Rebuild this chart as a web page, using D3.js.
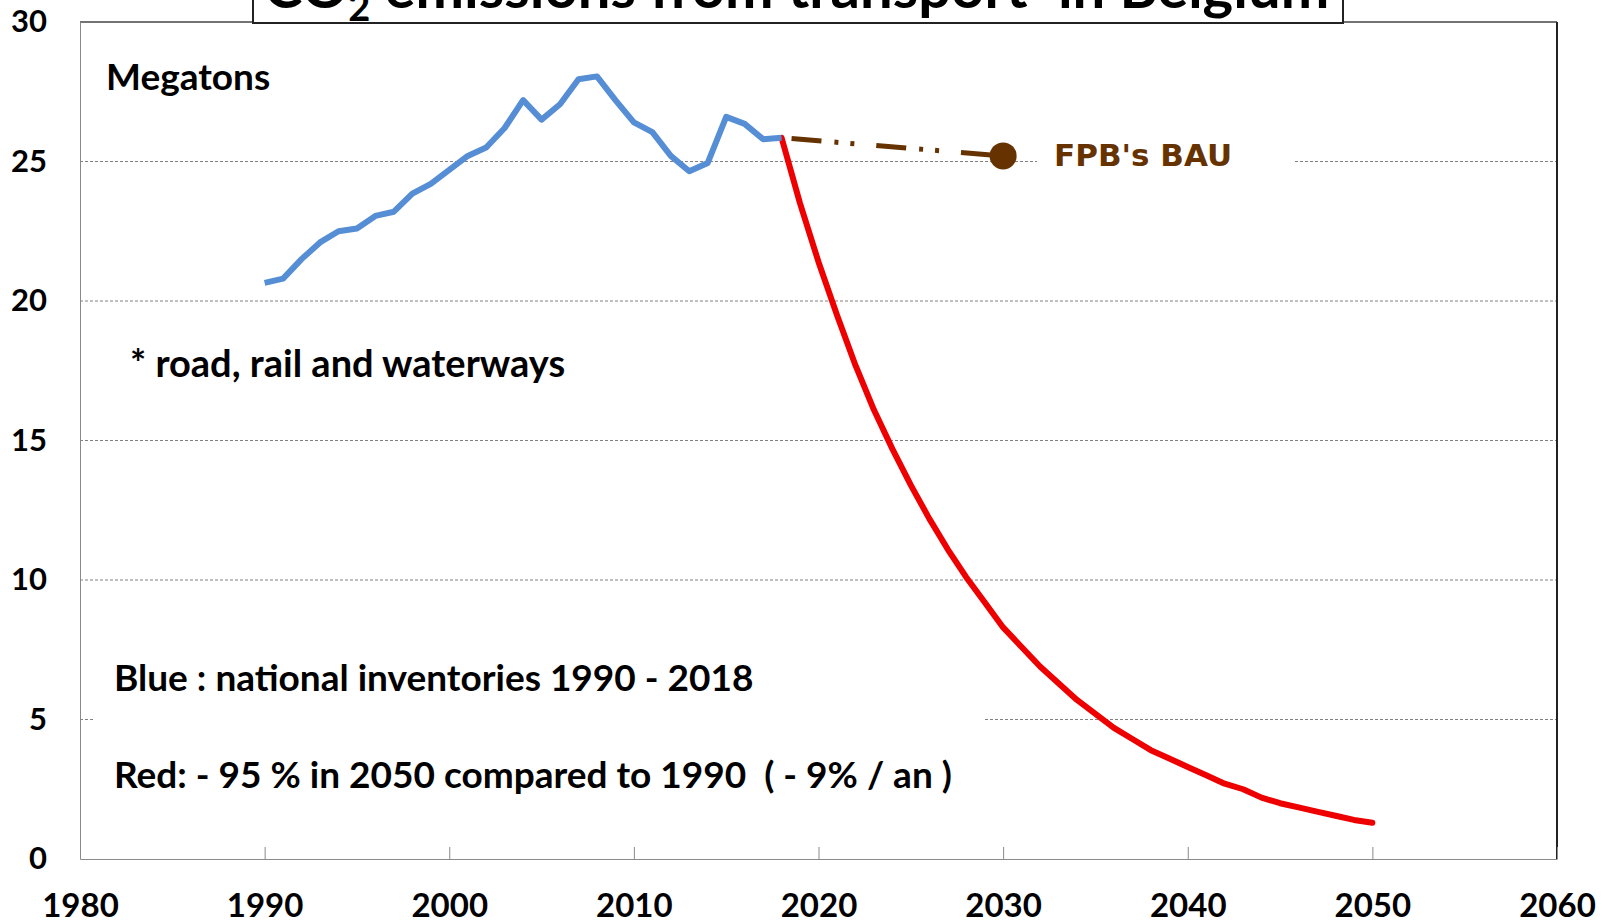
<!DOCTYPE html>
<html>
<head>
<meta charset="utf-8">
<script src="https://cdn.jsdelivr.net/npm/d3@7"></script>
<style>
    body { margin: 0; background: #fff; }
    svg { display: block; }
    text { font-family: Lato, "Open Sans", sans-serif; font-weight: bold; fill: #000; white-space: pre; }
</style>
</head>
<body>
<svg id="chart" width="1602" height="923"></svg>
<script>
// inventaires nationaux 1990 - 2018
const blueYears = d3.range(1990, 2019);
const blueValues = [20.65, 20.8, 21.5, 22.1, 22.5, 22.6, 23.05, 23.2, 23.85, 24.2,
    24.7, 25.2, 25.5, 26.2, 27.2, 26.5, 27.05, 27.95, 28.05, 27.2,
    26.4, 26.05, 25.2, 24.65, 24.95, 26.6, 26.35, 25.8, 25.85];

// trajectoire -95 % en 2050
const redYears = d3.range(2018, 2051);
const redValues = [25.85, 23.5, 21.4, 19.5, 17.7, 16.1, 14.7, 13.4, 12.2, 11.1,
    10.1, 9.2, 8.3, 7.6, 6.9, 6.3, 5.7, 5.2, 4.7, 4.3,
    3.9, 3.6, 3.3, 3.0, 2.7, 2.5, 2.2, 2.0, 1.85, 1.7,
    1.55, 1.4, 1.3];

// FPB's BAU
const bauYears = [2018, 2030];
const bauValues = [25.85, 25.2];

const xTicks = [1980, 1990, 2000, 2010, 2020, 2030, 2040, 2050, 2060];
const yTicks = [0, 5, 10, 15, 20, 25, 30];

const svg = d3.select("#chart");

const x = d3.scaleLinear().domain([1980, 2060]).range([80, 1557]);
const y = d3.scaleLinear().domain([0, 30]).range([859, 22]);

const line = d3.line()
    .x(d => x(d[0]))
    .y(d => y(d[1]));

// grille
svg.append("g")
    .selectAll("line")
    .data(yTicks.filter(v => v > 0 && v < 30))
    .join("line")
    .attr("x1", x(1980))
    .attr("x2", x(2060))
    .attr("y1", d => y(d))
    .attr("y2", d => y(d))
    .attr("stroke", "#808080")
    .attr("stroke-width", 1)
    .attr("stroke-dasharray", "3,2");

// cadre haut + droite
svg.append("line")
    .attr("x1", x(1980)).attr("x2", x(2060))
    .attr("y1", y(30)).attr("y2", y(30))
    .attr("stroke", "#444").attr("stroke-width", 1.5);
svg.append("line")
    .attr("x1", x(2060)).attr("x2", x(2060))
    .attr("y1", y(30)).attr("y2", y(0))
    .attr("stroke", "#222").attr("stroke-width", 2);

// axe Y
const yAxis = svg.append("g")
    .attr("transform", `translate(${x(1980)},0)`)
    .call(d3.axisLeft(y).tickValues(yTicks).tickSize(0).tickPadding(33).tickFormat(d3.format("d")));
yAxis.select(".domain").attr("stroke", "#8a8a8a");
yAxis.selectAll("text")
    .style("font-family", "Lato, sans-serif")
    .style("font-weight", "bold")
    .style("font-size", "31px")
    .attr("fill", "#000");

// axe X, graduations vers le haut
const xAxis = svg.append("g")
    .attr("transform", `translate(0,${y(0)})`)
    .call(d3.axisBottom(x).tickValues(xTicks).tickSizeInner(-12).tickSizeOuter(0).tickPadding(35).tickFormat(d3.format("d")));
xAxis.select(".domain").attr("stroke", "#8a8a8a");
xAxis.selectAll(".tick line").attr("stroke", "#8a8a8a");
xAxis.selectAll("text")
    .style("font-family", "Lato, sans-serif")
    .style("font-weight", "bold")
    .style("font-size", "33px")
    .attr("fill", "#000");

// encadré texte bleu / rouge (cache la grille)
svg.append("rect")
    .attr("x", 93).attr("y", 630)
    .attr("width", 890).attr("height", 175)
    .attr("fill", "#fff");

const note = (txt, xx, yy, size) => {
    svg.append("text")
        .attr("x", xx)
        .attr("y", yy)
        .attr("dominant-baseline", "central")
        .attr("xml:space", "preserve")
        .style("font-size", size + "px")
        .text(txt);
};

note("Megatons", 106, 75, 37);
note("* road, rail and waterways", 130, 362, 38);
note("Blue : national inventories 1990 - 2018", 114, 676, 37);
note("Red: - 95 % in 2050 compared to 1990  ( - 9% / an )", 114, 773, 37);

// BAU
svg.append("rect")
    .attr("x", 1037).attr("y", 135)
    .attr("width", 256).attr("height", 40)
    .attr("fill", "#fff");

svg.append("path")
    .datum(d3.zip(bauYears, bauValues))
    .attr("fill", "none")
    .attr("stroke", "#663300")
    .attr("stroke-width", 5)
    .attr("stroke-dasharray", "0,10,30,13,4,12,4,12")
    .attr("d", line);

svg.append("circle")
    .attr("cx", x(bauYears[1]))
    .attr("cy", y(bauValues[1]))
    .attr("r", 13.5)
    .attr("fill", "#663300");

svg.append("text")
    .attr("x", 1054)
    .attr("y", 155)
    .attr("dominant-baseline", "central")
    .style("font-family", "'DejaVu Sans', sans-serif")
    .style("font-size", "31px")
    .style("fill", "#663300")
    .text("FPB's BAU");

// courbes
svg.append("path")
    .datum(d3.zip(redYears, redValues))
    .attr("fill", "none")
    .attr("stroke", "#ee0000")
    .attr("stroke-width", 6)
    .attr("stroke-linecap", "round")
    .attr("stroke-linejoin", "round")
    .attr("d", line);

svg.append("path")
    .datum(d3.zip(blueYears, blueValues))
    .attr("fill", "none")
    .attr("stroke", "#558ed5")
    .attr("stroke-width", 6)
    .attr("stroke-linejoin", "round")
    .attr("d", line);

// titre (coupé en haut comme sur l'original)
svg.append("rect")
    .attr("x", 253).attr("y", -40)
    .attr("width", 1090).attr("height", 63)
    .attr("fill", "#fff")
    .attr("stroke", "#222")
    .attr("stroke-width", 2);

const title = svg.append("text")
    .attr("x", 264)
    .attr("y", 8)
    .style("font-size", "58px");
title.append("tspan").text("CO");
title.append("tspan").attr("dy", 13).style("font-size", "38px").text("2");
title.append("tspan").attr("dy", -13).text(" emissions from transport");
title.append("tspan").attr("dy", -22).style("font-size", "38px").text("*");
title.append("tspan").attr("dy", 22).text(" in Belgium");
</script>
</body>
</html>
